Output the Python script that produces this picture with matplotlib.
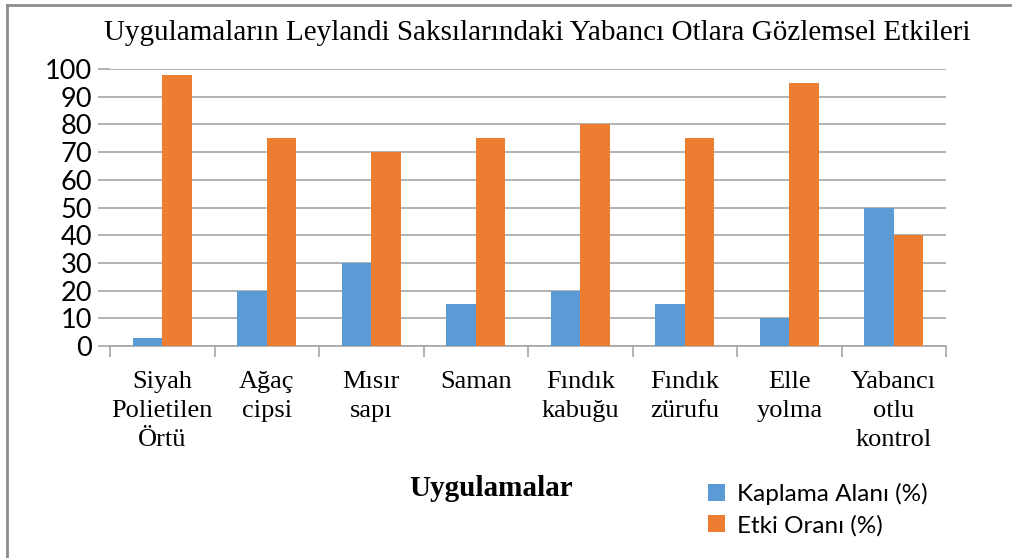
import numpy as np
import matplotlib.pyplot as plt
from matplotlib.lines import Line2D
from matplotlib.ticker import FixedLocator

# chart data
categories = ["Siyah\nPolietilen\nÖrtü", "Ağaç\ncipsi", "Mısır\nsapı", "Saman",
              "Fındık\nkabuğu", "Fındık\nzürufu", "Elle\nyolma", "Yabancı\notlu\nkontrol"]
kaplama = [3, 20, 30, 15, 20, 15, 10, 50]
etki = [98, 75, 70, 75, 80, 75, 95, 40]
series_names = ["Kaplama Alanı (%)", "Etki Oranı (%)"]
yticks = list(range(0, 101, 10))

blue = "#5B9BD5"
orange = "#ED7D31"
grid_col = "#A6A6A6"

fig = plt.figure(figsize=(10.16, 5.58), dpi=100)
ax = fig.add_axes([110 / 1016, 1 - 346 / 558, 836 / 1016, 277 / 558])

x = np.arange(len(categories))
w = 0.28
ax.bar(x - w / 2, kaplama, w, color=blue, label=series_names[0], zorder=3)
ax.bar(x + w / 2, etki, w, color=orange, label=series_names[1], zorder=3)

ax.set_xlim(-0.5, len(categories) - 0.5)
ax.set_ylim(0, 100)
ax.set_yticks(yticks)
ax.yaxis.grid(True, color=grid_col, linewidth=1.2, zorder=0)
ax.tick_params(axis="y", length=9, color=grid_col, width=1.2, pad=4)
for lab in ax.get_yticklabels():
    lab.set_fontfamily("Lato")
    lab.set_fontsize(19.5)

ax.set_xticks(x)
ax.set_xticklabels(categories, family="Liberation Serif", fontsize=19, linespacing=1.4)
ax.tick_params(axis="x", which="major", length=0, pad=18)
ax.xaxis.set_minor_locator(FixedLocator(np.arange(-0.5, len(categories), 1.0)))
ax.tick_params(axis="x", which="minor", length=8, color=grid_col, width=1.2)

for s in ["top", "right", "left"]:
    ax.spines[s].set_visible(False)
ax.spines["bottom"].set_color(grid_col)
ax.spines["bottom"].set_linewidth(1.2)

fig.text(537 / 1016, 1 - 33 / 558, "Uygulamaların Leylandi Saksılarındaki Yabancı Otlara Gözlemsel Etkileri",
         ha="center", va="center", family="Liberation Serif", fontsize=21)
fig.text(491 / 1016, 1 - 488 / 558, "Uygulamalar", ha="center", va="center",
         family="Liberation Serif", fontsize=21, fontweight="bold")

leg = fig.legend(loc="upper left", bbox_to_anchor=(686 / 1016, 1 - 461 / 558), frameon=False,
                 prop={"family": "Lato", "size": 17.5}, handlelength=0.7, handleheight=0.7,
                 handletextpad=0.5, labelspacing=0.4)

# outer frame (top and left edge)
fig.add_artist(Line2D([7 / 1016, 7 / 1016], [0, 1 - 5 / 558], transform=fig.transFigure,
                      color="#8C8C8C", linewidth=2))
fig.add_artist(Line2D([7 / 1016, 1010 / 1016], [1 - 5 / 558, 1 - 5 / 558], transform=fig.transFigure,
                      color="#8C8C8C", linewidth=2))

fig.savefig("out.png", dpi=100)
